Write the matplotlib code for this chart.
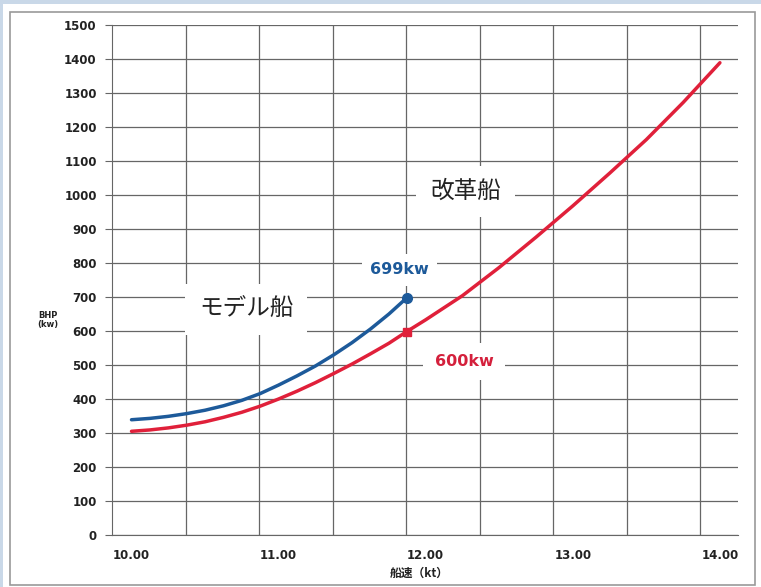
import numpy as np
import matplotlib
matplotlib.use("Agg")
import matplotlib.pyplot as plt
from matplotlib.patches import Rectangle

plt.rcParams['font.family'] = ['DejaVu Sans', 'Noto Sans CJK JP']

# データ
speed_model = [10.000, 10.125, 10.250, 10.375, 10.500, 10.625, 10.750, 10.875,
               11.000, 11.125, 11.250, 11.375, 11.500, 11.625, 11.750, 11.870]
bhp_model = [339, 343, 349, 357, 367, 380, 396, 416,
             441, 468, 497, 530, 566, 606, 650, 697]

speed_kaikaku = [10.000, 10.125, 10.250, 10.375, 10.500, 10.625, 10.750, 10.875,
                 11.000, 11.125, 11.250, 11.375, 11.500, 11.625, 11.750, 11.870,
                 12.000, 12.250, 12.500, 12.750, 13.000, 13.250, 13.500, 13.750, 14.000]
bhp_kaikaku = [305, 309, 315, 323, 333, 346, 361, 379,
               400, 423, 448, 475, 503, 533, 564, 598,
               633, 704, 787, 876, 968, 1064, 1163, 1272, 1389]

xticks = [10, 11, 12, 13, 14]
xticklabels = ['10.00', '11.00', '12.00', '13.00', '14.00']
yticks = list(range(0, 1501, 100))

blue = '#1d5a9a'
red = '#e0203a'
grid = '#666666'

fig = plt.figure(figsize=(7.61, 5.87), dpi=100)

# 外枠
fig.patches.append(Rectangle((10 / 761, 2 / 587), 745 / 761, 573 / 587,
                             transform=fig.transFigure, fill=False,
                             edgecolor='#9a9a9a', lw=1.2))
fig.patches.append(Rectangle((0, 583 / 587), 1, 4 / 587, transform=fig.transFigure,
                             facecolor='#c9d8e8', edgecolor='none'))
fig.patches.append(Rectangle((0, 0), 3 / 761, 1, transform=fig.transFigure,
                             facecolor='#c9d8e8', edgecolor='none'))

ax = fig.add_axes([112 / 761, 52 / 587, 626 / 761, 510 / 587])
x0, x1 = 9.8674, 14.123
ax.set_xlim(x0, x1)
ax.set_ylim(0, 1500)

# グリッド
for y in yticks:
    ax.axhline(y, color=grid, lw=0.9, zorder=1)
for k in range(1, 9):
    ax.axvline(x0 + 0.5 * k, color=grid, lw=0.9, zorder=1)

for s in ['top', 'right']:
    ax.spines[s].set_visible(False)
ax.spines['left'].set_color(grid)
ax.spines['bottom'].set_color(grid)

ax.set_yticks(yticks)
ax.set_xticks(xticks)
ax.set_xticklabels(xticklabels)
ax.tick_params(axis='y', length=5, color=grid, labelsize=8.5, pad=6)
ax.tick_params(axis='x', length=0, labelsize=8.5, pad=10)
for lab in ax.get_xticklabels() + ax.get_yticklabels():
    lab.set_fontweight('bold')
    lab.set_color('#222222')

# 曲線
ax.plot(speed_kaikaku, bhp_kaikaku, color=red, lw=2.5, zorder=4,
        solid_capstyle='round', solid_joinstyle='round')
ax.plot(speed_model, bhp_model, color=blue, lw=2.5, zorder=5,
        solid_capstyle='round', solid_joinstyle='round')
ax.plot(speed_model[-1], bhp_model[-1], 'o', color=blue, ms=7, zorder=6)
ax.plot(speed_kaikaku[15], bhp_kaikaku[15], 's', color=red, ms=6, zorder=6)

# ラベル
jp = 'Noto Sans CJK JP'
box = dict(facecolor='white', edgecolor='none', pad=10)
ax.text(10.78, 662, 'モデル船', fontsize=17, family=jp, color='#222222',
        ha='center', va='center', bbox=box, zorder=3)
ax.text(12.27, 1010, '改革船', fontsize=17, family=jp, color='#222222',
        ha='center', va='center', bbox=box, zorder=3)
ax.text(11.82, 780, '699kw', fontsize=11.5, fontweight='bold', color=blue,
        ha='center', va='center', bbox=dict(facecolor='white', edgecolor='none', pad=6),
        zorder=3)
ax.text(12.26, 510, '600kw', fontsize=11.5, fontweight='bold', color='#d4203c',
        ha='center', va='center', bbox=dict(facecolor='white', edgecolor='none', pad=8),
        zorder=3)

fig.text(48 / 761, 1 - 320 / 587, 'BHP\n(kw)', fontsize=6, fontweight='bold',
         ha='center', va='center', linespacing=1.0, color='#222222')
fig.text(419 / 761, 1 - 573 / 587, '船速（kt）', fontsize=8.5, fontweight='bold',
         family=[jp, 'DejaVu Sans'], ha='center', va='center', color='#222222')

fig.savefig('out.png', dpi=100)
